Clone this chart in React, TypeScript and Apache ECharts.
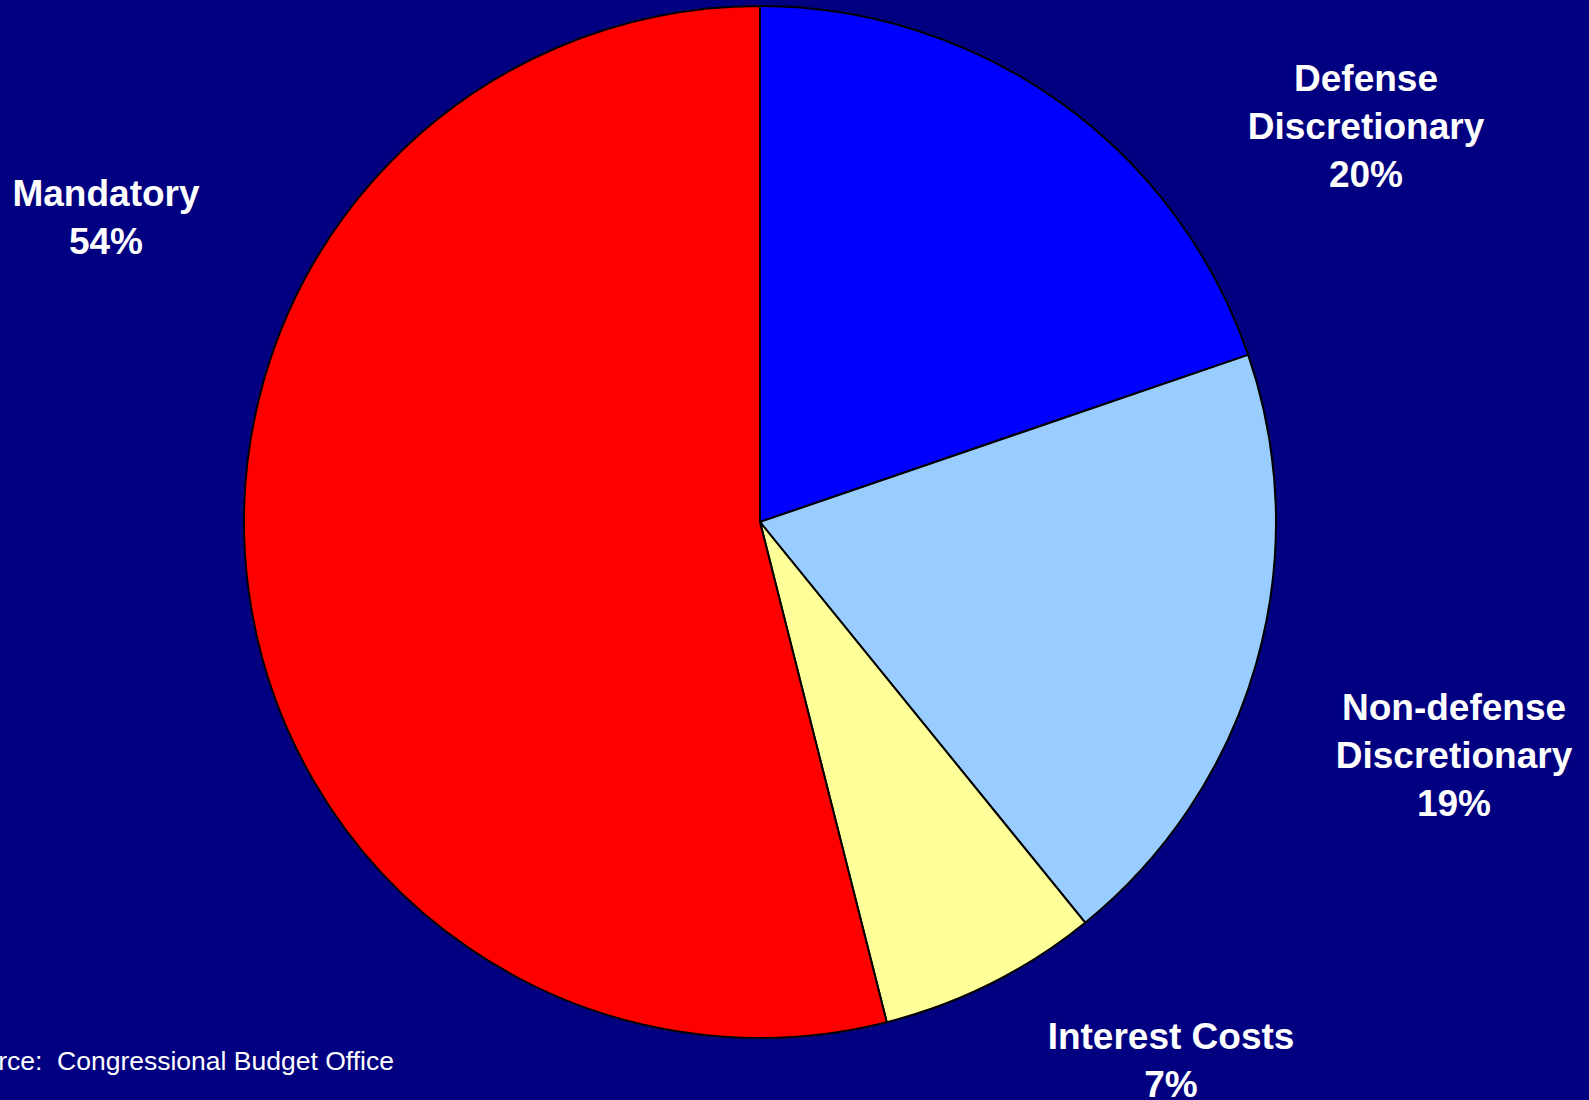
import React, { useEffect, useRef } from "react";
import * as echarts from "echarts";

const categories = ["Defense\nDiscretionary", "Non-defense\nDiscretionary", "Interest Costs", "Mandatory"];
const values = [19.75, 19.4, 6.9, 53.95];
const colors = ["#0000FF", "#99CCFF", "#FFFF99", "#FF0000"];
const labelCenters = [
  [1366, 126],
  [1454, 755],
  [1171, 1060],
  [106, 217],
];
const sourceText = "Source:  Congressional Budget Office";

export default function App() {
  const ref = useRef<HTMLDivElement>(null);
  useEffect(() => {
    if (!ref.current) return;
    const chart = echarts.init(ref.current, null, { renderer: "svg" });
    chart.setOption({
      animation: false,
      backgroundColor: "#000080",
      textStyle: { fontFamily: "Liberation Sans, Arial, sans-serif" },
      graphic: [
        {
          type: "text",
          left: -49,
          top: 1047,
          style: {
            text: sourceText,
            fill: "#FFFFFF",
            font: "26.5px 'Liberation Sans', Arial, sans-serif",
          },
        },
      ],
      series: [
        {
          type: "pie",
          center: [760, 522],
          radius: 516,
          startAngle: 90,
          clockwise: true,
          silent: true,
          itemStyle: { borderColor: "#000000", borderWidth: 2 },
          labelLine: { show: false },
          label: {
            show: true,
            position: "outside",
            formatter: (p: any) => `${p.name}\n${Math.round(p.value)}%`,
            color: "#FFFFFF",
            fontSize: 37,
            fontWeight: "bold",
            lineHeight: 48,
            align: "center",
            fontFamily: "Liberation Sans, Arial, sans-serif",
          },
          labelLayout: (params: any) => {
            const c = labelCenters[params.dataIndex];
            return { x: c[0], y: c[1], align: "center", verticalAlign: "middle" };
          },
          data: categories.map((name, i) => ({
            name,
            value: values[i],
            itemStyle: { color: colors[i] },
          })),
        },
      ],
    });
    return () => chart.dispose();
  }, []);
  return (
    <div
      ref={ref}
      style={{ position: "fixed", left: 0, top: 0, width: 1589, height: 1100 }}
    />
  );
}
